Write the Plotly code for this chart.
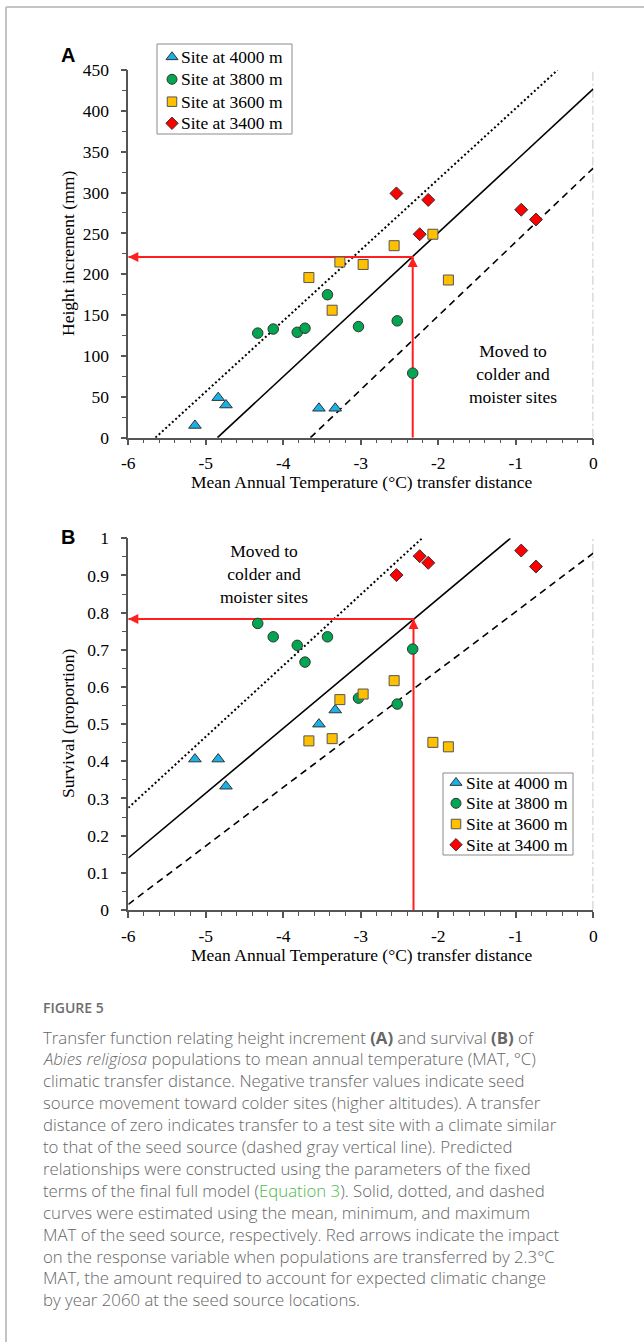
import plotly.graph_objects as go

# ---------------- data ----------------
sites = ["Site at 4000 m", "Site at 3800 m", "Site at 3600 m", "Site at 3400 m"]

t4000 = [-5.14, -4.84, -4.74, -3.54, -3.33]
h4000 = [15, 49, 40, 36, 36]
s4000 = [0.406, 0.406, 0.333, 0.500, 0.538]

t3800 = [-4.33, -4.13, -3.82, -3.72, -3.43, -3.03, -2.53, -2.33]
h3800 = [128, 133, 129, 134, 175, 136, 143, 79]
s3800 = [0.771, 0.735, 0.712, 0.667, 0.735, 0.570, 0.554, 0.702]

t3600 = [-3.67, -3.37, -3.27, -2.97, -2.57, -2.07, -1.87]
h3600 = [196, 156, 215, 212, 235, 249, 193]
s3600 = [0.455, 0.461, 0.566, 0.581, 0.617, 0.451, 0.439]

t3400 = [-2.54, -2.24, -2.13, -0.93, -0.74]
h3400 = [299, 249, 291, 279, 267]
s3400 = [0.901, 0.952, 0.934, 0.967, 0.924]

# predicted relationships (mean = solid, min = dotted, max = dashed)
hA_mean_x, hA_mean_y = [-4.85, 0], [0, 427]
hA_min_x, hA_min_y = [-5.65, -0.46], [0, 450]
hA_max_x, hA_max_y = [-3.65, 0], [0, 330]

sB_mean_x, sB_mean_y = [-6, -1.07], [0.14, 1.0]
sB_min_x, sB_min_y = [-6, -2.21], [0.275, 1.0]
sB_max_x, sB_max_y = [-6, 0], [0.015, 0.96]

# zero-transfer reference line
zero_x = [0, 0]
zeroA_y = [0, 450]
zeroB_y = [0, 1]

# red arrows (transfer of 2.3 C)
arrowA_t, arrowA_v = -2.33, 221
arrowB_t, arrowB_v = -2.32, 0.783

x_ticks = [-6, -5, -4, -3, -2, -1, 0]
x_labels = ["-6", "-5", "-4", "-3", "-2", "-1", "0"]
yA_ticks = [0, 50, 100, 150, 200, 250, 300, 350, 400, 450]
yB_ticks = [0, 0.1, 0.2, 0.3, 0.4, 0.5, 0.6, 0.7, 0.8, 0.9, 1]
yB_labels = ["0", "0.1", "0.2", "0.3", "0.4", "0.5", "0.6", "0.7", "0.8", "0.9", "1"]

caption_lines = [
    "Transfer function relating height increment <b>(A)</b> and survival <b>(B)</b> of",
    "<i>Abies religiosa</i> populations to mean annual temperature (MAT, °C)",
    "climatic transfer distance. Negative transfer values indicate seed",
    "source movement toward colder sites (higher altitudes). A transfer",
    "distance of zero indicates transfer to a test site with a climate similar",
    "to that of the seed source (dashed gray vertical line). Predicted",
    "relationships were constructed using the parameters of the fixed",
    "terms of the final full model (<span style='color:#4db848'>Equation 3</span>). Solid, dotted, and dashed",
    "curves were estimated using the mean, minimum, and maximum",
    "MAT of the seed source, respectively. Red arrows indicate the impact",
    "on the response variable when populations are transferred by 2.3°C",
    "MAT, the amount required to account for expected climatic change",
    "by year 2060 at the seed source locations.",
]

# ---------------- styling ----------------
W, H = 644, 1342
SERIF = "Liberation Serif, Times New Roman, serif"
SANS = "Open Sans, sans-serif"
AX_COL = "#555555"
RED = "#ff1f1f"
FS = 17.5

def px_x(p):
    return p / W

def px_y(p):
    return 1 - p / H

marker_styles = [
    dict(symbol="triangle-up", color="#1ab0e8", size=11, line=dict(color="#333", width=1)),
    dict(symbol="circle", color="#00a650", size=10.5, line=dict(color="#333", width=1)),
    dict(symbol="square", color="#ffc000", size=10, line=dict(color="#555", width=1)),
    dict(symbol="diamond", color="#ff0000", size=10, line=dict(color="#333", width=1)),
]

fig = go.Figure()

panels = [
    dict(xa="x", ya="y",
         lines=[(hA_min_x, hA_min_y, "2px,2.5px", 2), (hA_mean_x, hA_mean_y, "solid", 1.6),
                (hA_max_x, hA_max_y, "7px,5px", 1.6)],
         zero=(zero_x, zeroA_y),
         arrow=(arrowA_t, arrowA_v, 0),
         pts=[(t4000, h4000), (t3800, h3800), (t3600, h3600), (t3400, h3400)]),
    dict(xa="x2", ya="y2",
         lines=[(sB_min_x, sB_min_y, "2px,2.5px", 2), (sB_mean_x, sB_mean_y, "solid", 1.6),
                (sB_max_x, sB_max_y, "7px,5px", 1.6)],
         zero=(zero_x, zeroB_y),
         arrow=(arrowB_t, arrowB_v, 0),
         pts=[(t4000, s4000), (t3800, s3800), (t3600, s3600), (t3400, s3400)]),
]

for p in panels:
    fig.add_trace(go.Scatter(x=p["zero"][0], y=p["zero"][1], mode="lines", xaxis=p["xa"], yaxis=p["ya"],
                             line=dict(color="#b5b5b5", width=1.5, dash="9px,3px,2px,3px"),
                             showlegend=False, hoverinfo="skip"))
    for lx, ly, dash, w in p["lines"]:
        fig.add_trace(go.Scatter(x=lx, y=ly, mode="lines", xaxis=p["xa"], yaxis=p["ya"],
                                 line=dict(color="black", width=w, dash=dash),
                                 showlegend=False, hoverinfo="skip"))
    t, v, y0 = p["arrow"]
    fig.add_trace(go.Scatter(x=[t, t, -6], y=[y0, v, v], mode="lines", xaxis=p["xa"], yaxis=p["ya"],
                             line=dict(color=RED, width=2), showlegend=False, hoverinfo="skip"))
    for (xs, ys), name, ms in zip(p["pts"], sites, marker_styles):
        fig.add_trace(go.Scatter(x=xs, y=ys, mode="markers", name=name, xaxis=p["xa"], yaxis=p["ya"],
                                 marker=ms, showlegend=False, cliponaxis=False))

# arrow heads
for xa, ya, t, v in [("x", "y", arrowA_t, arrowA_v), ("x2", "y2", arrowB_t, arrowB_v)]:
    fig.add_annotation(x=t, y=v, ax=0, ay=10, xref=xa, yref=ya, text="", showarrow=True,
                       arrowhead=2, arrowsize=1, arrowwidth=2, arrowcolor=RED)
    fig.add_annotation(x=-6, y=v, ax=10, ay=0, xref=xa, yref=ya, text="", showarrow=True,
                       arrowhead=2, arrowsize=1, arrowwidth=2, arrowcolor=RED)

x_dom = [px_x(128.3), px_x(593.3)]
yA_dom = [px_y(437.7), px_y(70)]
yB_dom = [px_y(910), px_y(538.3)]

tickfont = dict(family=SERIF, size=FS, color="black")

def xaxis(anchor):
    return dict(domain=x_dom, range=[-6, 0], anchor=anchor, tickvals=x_ticks, ticktext=x_labels,
                ticks="outside", ticklen=6, tickwidth=1.5, tickcolor=AX_COL,
                showline=True, linecolor=AX_COL, linewidth=1.5, showgrid=False, zeroline=False,
                tickfont=tickfont, ticklabelstandoff=3,
                minor=dict(dtick=0.2, ticks="outside", ticklen=4, tickwidth=1, tickcolor=AX_COL))

def yaxis(anchor, dom, rng, tv, tt, mdt):
    return dict(domain=dom, range=rng, anchor=anchor, tickvals=tv, ticktext=tt,
                ticks="outside", ticklen=6, tickwidth=1.5, tickcolor=AX_COL,
                showline=True, linecolor=AX_COL, linewidth=1.5, showgrid=False, zeroline=False,
                tickfont=tickfont, ticklabelstandoff=8,
                minor=dict(dtick=mdt, ticks="outside", ticklen=5, tickwidth=1, tickcolor=AX_COL))

def overlay_x(over, anchor):
    return dict(domain=x_dom, range=[-6, 0], overlaying=over, anchor=anchor, tickvals=x_ticks,
                ticks="inside", ticklen=6, tickwidth=1.5, tickcolor=AX_COL, showticklabels=False,
                showline=False, showgrid=False, zeroline=False)

def overlay_y(over, anchor, dom, rng, tv):
    return dict(domain=dom, range=rng, overlaying=over, anchor=anchor, tickvals=tv,
                ticks="inside", ticklen=6, tickwidth=1.5, tickcolor=AX_COL, showticklabels=False,
                showline=False, showgrid=False, zeroline=False)

def hidden_axis(dom, anchor):
    return dict(domain=dom, range=[0, 1], anchor=anchor, visible=False, fixedrange=True)

# legend boxes (pixel geometry): left, top, right, bottom, symbol x, text x, row centres
legend_boxes = [
    dict(box=(157, 44, 292, 134), sym_x=172, txt_x=179, rows=(57, 79.3, 101.7, 123.3), ax=("x5", "y5")),
    dict(box=(443, 773, 573, 855), sym_x=456, txt_x=464, rows=(782.7, 803.3, 824, 844.7), ax=("x6", "y6")),
]

layout_axes = {}
for i, lb in enumerate(legend_boxes):
    l, t, r, b = lb["box"]
    xd = [px_x(l), px_x(r)]
    yd = [px_y(b), px_y(t)]
    n = 5 + i
    layout_axes[f"xaxis{n}"] = hidden_axis(xd, f"y{n}")
    layout_axes[f"yaxis{n}"] = hidden_axis(yd, f"x{n}")
    fig.add_shape(type="rect", xref="paper", yref="paper", x0=xd[0], x1=xd[1], y0=yd[0], y1=yd[1],
                  line=dict(color="#8a8a8a", width=1), fillcolor="rgba(0,0,0,0)", layer="above")
    for name, ms, ry in zip(sites, marker_styles, lb["rows"]):
        sx = (lb["sym_x"] - l) / (r - l)
        sy = (b - ry) / (b - t)
        legend_ms = dict(ms)
        legend_ms["size"] = ms["size"] - 0.5
        fig.add_trace(go.Scatter(x=[sx], y=[sy], mode="markers", xaxis=lb["ax"][0], yaxis=lb["ax"][1],
                                 marker=legend_ms, showlegend=False, hoverinfo="skip", cliponaxis=False,
                                 name=name))
        fig.add_annotation(text=name, x=px_x(lb["txt_x"]), y=px_y(ry), xref="paper", yref="paper",
                           showarrow=False, xanchor="left", yanchor="middle",
                           font=dict(family=SERIF, size=FS, color="black"))

fig.update_layout(
    width=W, height=H, margin=dict(l=0, r=0, t=0, b=0, autoexpand=False),
    paper_bgcolor="white", plot_bgcolor="rgba(0,0,0,0)",
    xaxis=xaxis("y"),
    yaxis=yaxis("x", yA_dom, [0, 450], yA_ticks, [str(v) for v in yA_ticks], 25),
    xaxis2=xaxis("y2"),
    yaxis2=yaxis("x2", yB_dom, [0, 1], yB_ticks, yB_labels, 0.05),
    xaxis3=overlay_x("x", "y"),
    yaxis3=overlay_y("y", "x", yA_dom, [0, 450], yA_ticks),
    xaxis4=overlay_x("x2", "y2"),
    yaxis4=overlay_y("y2", "x2", yB_dom, [0, 1], yB_ticks),
    showlegend=False,
    **layout_axes,
)

def ann(text, x, y, size, family, color="black", xanchor="center", yanchor="middle", angle=0, **kw):
    fig.add_annotation(text=text, x=px_x(x), y=px_y(y), xref="paper", yref="paper", showarrow=False,
                       font=dict(family=family, size=size, color=color, **kw),
                       xanchor=xanchor, yanchor=yanchor, textangle=angle)

ann("<b>A</b>", 68, 55, 20, "Liberation Sans, Arial, sans-serif")
ann("<b>B</b>", 68, 537, 20, "Liberation Sans, Arial, sans-serif")
ann("Height increment (mm)", 68, 254, FS, SERIF, angle=-90)
ann("Survival (proportion)", 68, 724, FS, SERIF, angle=-90)
ann("Mean Annual Temperature (°C) transfer distance", 361, 482, FS, SERIF)
ann("Mean Annual Temperature (°C) transfer distance", 361, 955, FS, SERIF)
ann("Moved to<br>colder and<br>moister sites", 513, 374, FS, SERIF)
ann("Moved to<br>colder and<br>moister sites", 264, 574, FS, SERIF)

ann("FIGURE 5", 41, 1007, 14, "Open Sans, sans-serif", color="#6d6d6d", xanchor="left", weight=600)
for i, line in enumerate(caption_lines):
    ann(line, 41, 1037 + i * 21.9, 16.8, SANS, color="#666666", xanchor="left", weight=300)

# outer frame (top and left edges)
fig.add_shape(type="line", xref="paper", yref="paper", x0=px_x(6), x1=1, y0=px_y(7), y1=px_y(7),
              line=dict(color="#c4c4c4", width=2))
fig.add_shape(type="line", xref="paper", yref="paper", x0=px_x(6), x1=px_x(6), y0=0, y1=px_y(7),
              line=dict(color="#c4c4c4", width=2))

fig.write_html("out.html")
